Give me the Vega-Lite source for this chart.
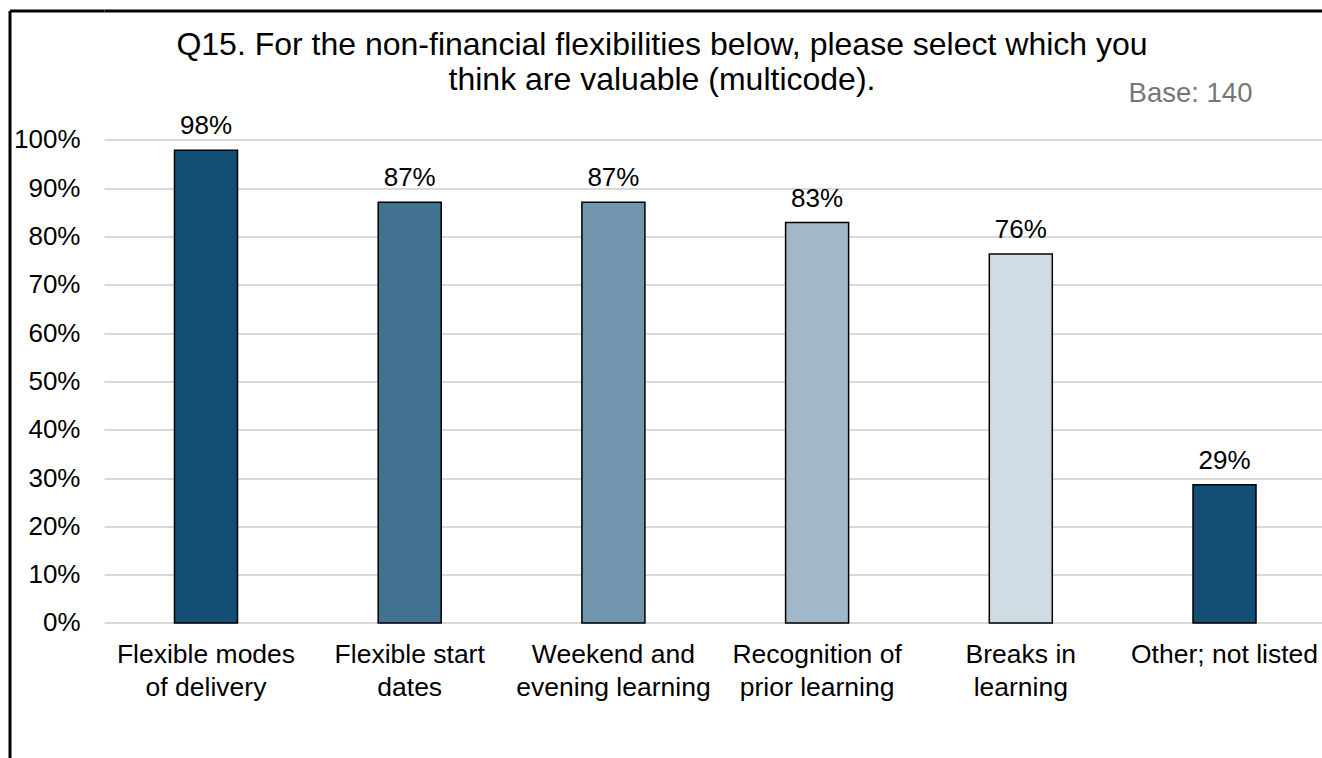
{
  "$schema": "https://vega.github.io/schema/vega-lite/v6.json",
  "autosize": "none",
  "width": 1218,
  "height": 747.5,
  "padding": {"left": 104, "top": 10.5, "right": 0, "bottom": 0},
  "background": "white",
  "config": {
    "font": "Liberation Sans",
    "view": {"stroke": null}
  },
  "title": {
    "text": ["Q15. For the non-financial flexibilities below, please select which you", "think are valuable (multicode)."],
    "fontSize": 32,
    "fontWeight": "normal",
    "color": "#000000",
    "font": "Liberation Sans",
    "anchor": "middle",
    "frame": "bounds",
    "offset": -99,
    "lineHeight": 35,
    "dx": -3
  },
  "data": {
    "values": [
      {"category": "Flexible modes\nof delivery", "value": 0.979},
      {"category": "Flexible start\ndates", "value": 0.871},
      {"category": "Weekend and\nevening learning", "value": 0.871},
      {"category": "Recognition of\nprior learning", "value": 0.829},
      {"category": "Breaks in\nlearning", "value": 0.764},
      {"category": "Other; not listed", "value": 0.286}
    ]
  },
  "encoding": {
    "x": {
      "field": "category",
      "type": "nominal",
      "sort": null,
      "scale": {"paddingInner": 0.6907, "paddingOuter": 0.335, "align": 0.5165},
      "axis": {
        "title": null,
        "orient": "bottom",
        "offset": -135,
        "domain": false,
        "ticks": false,
        "tickSize": 0,
        "labelPadding": 18,
        "labelAngle": 0,
        "labelFontSize": 26.5,
        "labelColor": "#000000",
        "labelFont": "Liberation Sans",
        "labelLineHeight": 33,
        "labelBaseline": "top",
        "labelLimit": 0,
        "labelOverlap": false,
        "labelExpr": "split(datum.label, '\\n')"
      }
    }
  },
  "layer": [
    {
      "mark": {"type": "bar", "stroke": "#000000", "strokeWidth": 1.5},
      "encoding": {
        "y": {
          "field": "value",
          "type": "quantitative",
          "scale": {"domain": [-0.2795, 1.2681], "nice": false, "zero": false},
          "axis": {
            "title": null,
            "orient": "left",
            "offset": 94.5,
            "values": [0, 0.1, 0.2, 0.3, 0.4, 0.5, 0.6, 0.7, 0.8, 0.9, 1, 1.2681],
            "labelExpr": "datum.value > 1.1 ? '' : format(datum.value, '.0%')",
            "labelFontSize": 26,
            "labelColor": "#000000",
            "labelFont": "Liberation Sans",
            "labelPadding": 24,
            "domain": true,
            "domainColor": "#000000",
            "domainWidth": 3,
            "ticks": true,
            "tickSize": -94.5,
            "tickWidth": 3,
            "tickColor": {"condition": {"test": "datum.value > 1.1", "value": "#000000"}, "value": "transparent"},
            "grid": true,
            "gridColor": {"condition": {"test": "datum.value > 1.1", "value": "#000000"}, "value": "#d9d9d9"},
            "gridWidth": {"condition": {"test": "datum.value > 1.1", "value": 3}, "value": 2},
            "labelFlush": false,
            "labelOverlap": false
          }
        },
        "y2": {"datum": 0},
        "color": {
          "field": "category",
          "type": "nominal",
          "legend": null,
          "scale": {
            "domain": ["Flexible modes\nof delivery", "Flexible start\ndates", "Weekend and\nevening learning", "Recognition of\nprior learning", "Breaks in\nlearning", "Other; not listed"],
            "range": ["#134f74", "#41728f", "#7095ad", "#a2b7c7", "#d0dce4", "#134f74"]
          }
        }
      }
    },
    {
      "mark": {"type": "text", "fontSize": 26, "color": "#000000", "baseline": "alphabetic", "dy": -16, "font": "Liberation Sans"},
      "encoding": {
        "y": {"field": "value", "type": "quantitative"},
        "text": {"field": "value", "type": "quantitative", "format": ".0%"}
      }
    },
    {
      "data": {"values": [{"note": "Base: 140"}]},
      "mark": {"type": "text", "fontSize": 27.5, "color": "#767676", "baseline": "middle", "align": "center", "dx": -34, "font": "Liberation Sans"},
      "encoding": {
        "x": {"datum": "Other; not listed"},
        "y": {"datum": 1.095},
        "text": {"field": "note", "type": "nominal"}
      }
    }
  ]
}
